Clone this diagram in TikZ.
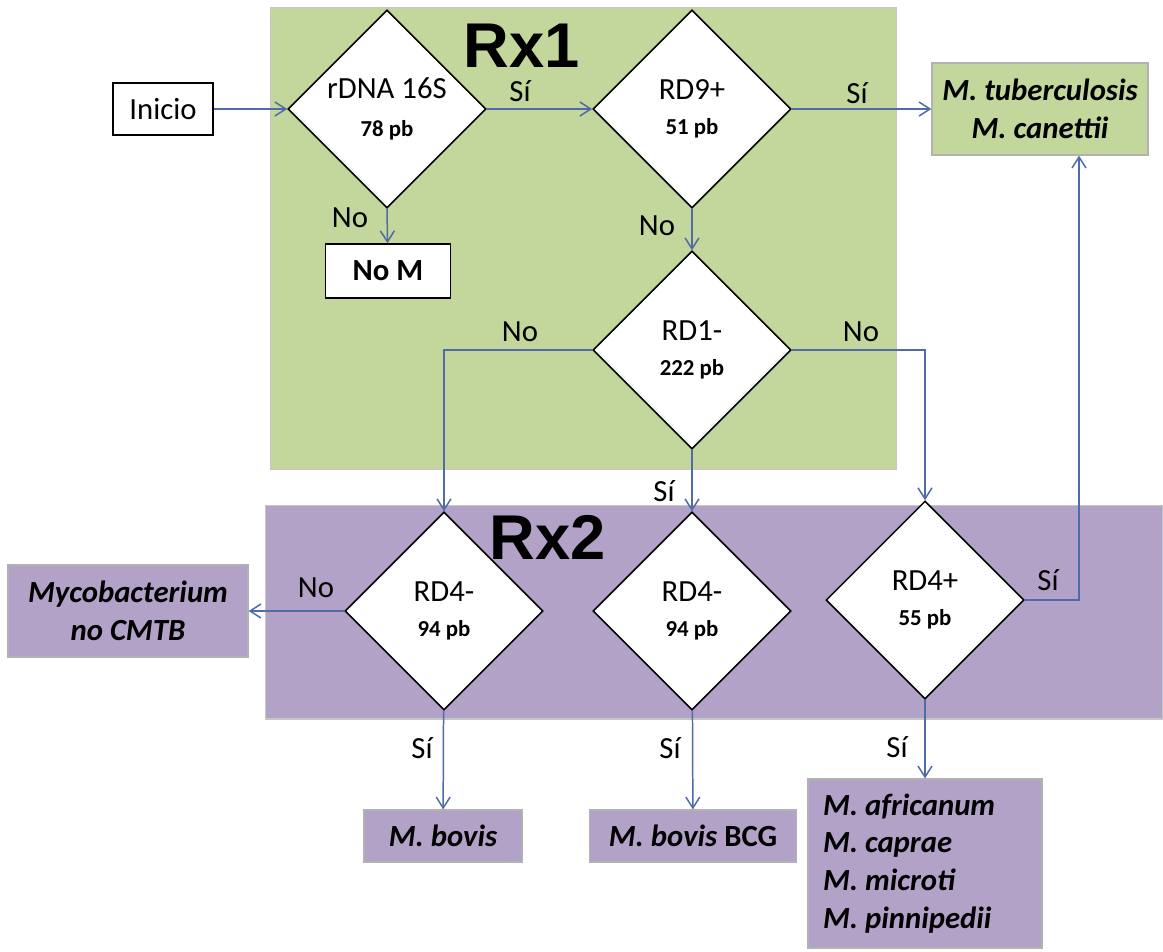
\documentclass[tikz,border=0pt]{standalone}
\usepackage{fontspec}
\setmainfont{Carlito}
\newfontfamily\rxfont{Liberation Sans}
\usetikzlibrary{arrows.meta,shapes.geometric,calc}
\definecolor{rxgreen}{HTML}{C3D69B}
\definecolor{rxpurple}{HTML}{B3A2C7}
\definecolor{linkblue}{HTML}{4F6BA8}
\newcommand{\pbsize}[1]{{\fontsize{13}{16}\selectfont\bfseries #1}}
\tikzset{zone/.style={draw=gray!45,line width=0.6pt,inner sep=0pt},
 test/.style={diamond,draw,fill=white,line width=0.9pt,inner sep=0pt,minimum width=3.96cm,minimum height=3.96cm,align=center,font=\fontsize{17.5}{20}\selectfont},
 box/.style={draw,fill=white,line width=0.9pt,align=center,inner sep=0pt,font=\fontsize{17.5}{21}\selectfont},
 species/.style={draw=gray!60,line width=0.7pt,align=center,inner sep=0pt,font=\fontsize{17.5}{21.5}\selectfont\bfseries\itshape},
 lbl/.style={font=\fontsize{17.5}{21}\selectfont,inner sep=0pt},
 rx/.style={font=\rxfont\bfseries\fontsize{36}{36}\selectfont,inner sep=0pt},
 arrow/.style={draw=linkblue,line width=0.85pt,-{Straight Barb[length=2.2mm,width=2.8mm]}}}

\begin{document}
\begin{tikzpicture}[x=0.02cm,y=-0.02cm]
\useasboundingbox (0,0) rectangle (1163,951);

% reaction zones
\node[zone,fill=rxgreen,minimum width=12.54cm,minimum height=9.26cm] (rx1) at (583.5,238.5) {};
\node[zone,fill=rxpurple,minimum width=17.96cm,minimum height=4.28cm] (rx2) at (714,612) {};
\node[rx] (rx1lbl) at (522,46) {Rx1};
\node[rx] (rx2lbl) at (548,537) {Rx2};

% Rx1
\node[box,minimum width=2cm,minimum height=1.04cm] (inicio) at (163,109) {Inicio};
\node[test] (rdna) at (387,109) {rDNA 16S\\[2pt]\pbsize{78 pb}};
\node[box,minimum width=2.5cm,minimum height=1.08cm,font=\fontsize{17.5}{21}\selectfont\bfseries] (nom) at (388,271) {No M};
\node[test] (rd9) at (692,109) {RD9+\\\pbsize{51 pb}};
\node[test] (rd1) at (692,350) {RD1-\\\pbsize{222 pb}};
\node[species,fill=rxgreen,minimum width=4.32cm,minimum height=1.84cm] (tub) at (1040,109)
{M. tuberculosis\\M. canettii};

% Rx2
\node[test] (rd4a) at (444,611) {RD4-\\\pbsize{94 pb}};
\node[test] (rd4b) at (692,611) {RD4-\\\pbsize{94 pb}};
\node[test] (rd4c) at (925,600) {RD4+\\\pbsize{55 pb}};
\node[species,fill=rxpurple,minimum width=4.8cm,minimum height=1.84cm] (myco) at (128,611)
{Mycobacterium\\no CMTB};
\node[species,fill=rxpurple,minimum width=3.16cm,minimum height=1.04cm] (bovis) at (443,836) {M. bovis};
\node[species,fill=rxpurple,minimum width=4.14cm,minimum height=1.04cm] (bcg) at (693,836) {M. bovis {\upshape BCG}};
\node[species,fill=rxpurple,minimum width=4.68cm,minimum height=3.38cm,text width=4.08cm,align=flush left] (afr) at (925,863.5)
{M. africanum\\M. caprae\\M. microti\\M. pinnipedii};

% labels
\node[lbl] (si1) at (520,91) {Sí};
\node[lbl] (no1) at (350,218) {No};
\node[lbl] (si2) at (857,93) {Sí};
\node[lbl] (no2) at (657,226) {No};
\node[lbl] (no3) at (520,332) {No};
\node[lbl] (no4) at (861,332) {No};
\node[lbl] (si3) at (664,491) {Sí};
\node[lbl] (no5) at (316,588) {No};
\node[lbl] (si4) at (1048,580) {Sí};
\node[lbl] (si5) at (422,748) {Sí};
\node[lbl] (si6) at (670,748) {Sí};
\node[lbl] (si7) at (897,747) {Sí};

\draw[arrow] (inicio)--(rdna);
\draw[arrow] (rdna)--(rd9);
\draw[arrow] (rdna.south)--(nom);
\draw[arrow] (rd9)--(tub);
\draw[arrow] (rd9)--(rd1);
\draw[arrow] (rd1.west) -| (rd4a.north);
\draw[arrow] (rd1.east) -| (rd4c.north);
\draw[arrow] (rd1)--(rd4b);
\draw[arrow] (rd4a)--(myco);
\draw[arrow] (rd4a)--(bovis);
\draw[arrow] (rd4b)--(bcg);
\draw[arrow] (rd4c)--(afr);
\draw[arrow] (rd4c.east) -| ([xshift=0.78cm]tub.south);
\end{tikzpicture}
\end{document}
